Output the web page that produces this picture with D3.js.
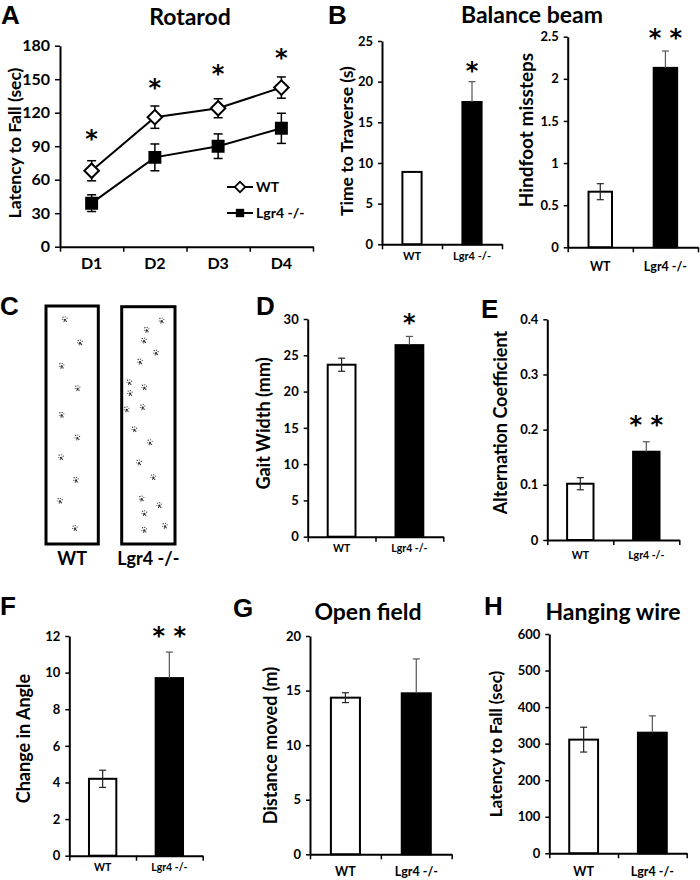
<!DOCTYPE html>
<html><head><meta charset="utf-8">
<script src="https://cdn.jsdelivr.net/npm/d3@7"></script>
<style>body{margin:0;background:#fff}svg{display:block}</style>
</head><body>
<script>
// ---------------- DATA ----------------
const days = ["D1", "D2", "D3", "D4"];
const rotarodWT = [68, 116, 124, 142.5];
const rotarodWTErr = [9, 10, 8.5, 9.5];
const rotarodKO = [39, 80, 90, 106];
const rotarodKOErr = [7.5, 12, 11, 13.5];
const rotarodStarY = [100, 146, 158, 173];
const rotarodTicks = [0, 30, 60, 90, 120, 150, 180];

const groups = ["WT", "Lgr4 -/-"];

const traverseMean = [8.9, 17.5];
const traverseErr = [0, 2.5];
const traverseTicks = [0, 5, 10, 15, 20, 25];

const misstepsMean = [0.66, 2.13];
const misstepsErr = [0.095, 0.2];
const misstepsTicks = [0, 0.5, 1, 1.5, 2, 2.5];

const gaitWidthMean = [23.7, 26.4];
const gaitWidthErr = [0.9, 1.2];
const gaitWidthTicks = [0, 5, 10, 15, 20, 25, 30];

const altCoefMean = [0.102, 0.16];
const altCoefErr = [0.011, 0.018];
const altCoefTicks = [0, 0.1, 0.2, 0.3, 0.4];

const angleMean = [4.2, 9.7];
const angleErr = [0.47, 1.42];
const angleTicks = [0, 2, 4, 6, 8, 10, 12];

const distanceMean = [14.35, 14.75];
const distanceErr = [0.45, 3.15];
const distanceTicks = [0, 5, 10, 15, 20];

const hangingMean = [311, 330];
const hangingErr = [34, 46];
const hangingTicks = [0, 100, 200, 300, 400, 500, 600];

// footprint positions (percent of track width / length)
const footWT_x = [36, 65, 30, 60.5, 30, 60, 28.7, 57.3, 26.8, 55.4];
const footWT_y = [5.6, 15.4, 25.2, 34.6, 45.8, 55.3, 63.6, 73.1, 81.9, 93.4];
const footKO_x = [75, 46.9, 41.9, 64.4, 34.4, 14.4, 42.5, 15.6, 9.4, 39.4, 23.8, 53.1, 32.5, 59.4, 37.5, 70.6, 42.5, 81.3, 42.5];
const footKO_y = [5.9, 9.8, 14.3, 19.4, 23.2, 31.9, 34.0, 36.5, 43.3, 42.4, 51.7, 57.2, 65.7, 71.9, 80.9, 83.7, 87.1, 92.4, 94.1];

// ---------------- DRAW ----------------
const FONT = "Lato, 'Open Sans', sans-serif";
const svg = d3.select("body").append("svg").attr("width", 700).attr("height", 880)
  .style("font-family", FONT);

function panelLetter(t, x, y) {
  svg.append("text").attr("x", x).attr("y", y).text(t)
    .attr("font-family", "'Liberation Sans', Arial, sans-serif")
    .attr("font-weight", "bold").attr("font-size", 26);
}
function title(t, x, y) {
  svg.append("text").attr("x", x).attr("y", y).attr("text-anchor", "middle")
    .attr("font-weight", "bold").attr("font-size", 23).text(t);
}
function yLabel(t, cx, cy, fs) {
  svg.append("text").attr("transform", `translate(${cx},${cy}) rotate(-90)`)
    .attr("text-anchor", "middle").attr("dominant-baseline", "central")
    .attr("font-weight", "bold").attr("font-size", fs).text(t);
}
function star(t, x, yc, fs) {
  svg.append("text").attr("x", x).attr("y", yc + fs * 0.5).attr("text-anchor", "middle")
    .attr("font-family", "'DejaVu Sans', sans-serif").attr("font-weight", "bold")
    .attr("font-size", fs).text(t);
}
function styleAxis(g, fs) {
  g.select(".domain").attr("stroke", "#000").attr("stroke-width", 2);
  g.selectAll(".tick line").attr("stroke", "#000").attr("stroke-width", 1.5);
  g.selectAll(".tick text").attr("font-weight", "bold").attr("font-size", fs)
    .attr("font-family", FONT).attr("fill", "#000");
}

function barPanel(c) {
  const y = d3.scaleLinear().domain([0, c.max]).range([c.y0, c.y1]);
  const x = d3.scaleBand().domain(groups).range([c.x0, c.x1]).padding(0);
  const xb = d3.scaleLinear().domain([0, groups.length]).range([c.x0, c.x1]);
  const bw = x.bandwidth() * c.frac;
  const g = svg.append("g");
  g.selectAll("rect.bar").data(c.mean).join("rect")
    .attr("x", (d, i) => x(groups[i]) + x.bandwidth() / 2 - bw / 2)
    .attr("y", d => y(d)).attr("width", bw).attr("height", d => y(0) - y(d))
    .attr("fill", (d, i) => i === 0 ? "#fff" : "#000")
    .attr("stroke", "#000").attr("stroke-width", 2);
  const cap = c.cap || 7;
  c.mean.forEach((m, i) => {
    const e = c.err[i];
    if (!e) return;
    const cx = x(groups[i]) + x.bandwidth() / 2;
    const col = i === 0 ? "#222" : "#555";
    const lo = i === 0 ? m - e : m;
    g.append("line").attr("x1", cx).attr("x2", cx).attr("y1", y(m + e)).attr("y2", y(lo))
      .attr("stroke", col).attr("stroke-width", 1.2);
    g.append("line").attr("x1", cx - cap / 2).attr("x2", cx + cap / 2).attr("y1", y(m + e)).attr("y2", y(m + e))
      .attr("stroke", col).attr("stroke-width", 1.2);
    if (i === 0) g.append("line").attr("x1", cx - cap / 2).attr("x2", cx + cap / 2).attr("y1", y(m - e)).attr("y2", y(m - e))
      .attr("stroke", col).attr("stroke-width", 1.2);
  });
  const ya = g.append("g").attr("transform", `translate(${c.x0},0)`)
    .call(d3.axisLeft(y).tickValues(c.ticks).tickFormat(d => String(d)).tickSize(4).tickSizeOuter(0).tickPadding(c.tpad || 5));
  styleAxis(ya, c.tfs);
  const xa = g.append("g").attr("transform", `translate(0,${c.y0})`)
    .call(d3.axisBottom(xb).tickValues(d3.range(groups.length + 1)).tickFormat("").tickSize(5).tickSizeOuter(0));
  styleAxis(xa, c.tfs);
  g.selectAll("text.cat").data(groups).join("text")
    .attr("x", d => x(d) + x.bandwidth() / 2).attr("y", c.xly)
    .attr("text-anchor", "middle").attr("font-weight", "bold").attr("font-size", c.xfs).text(d => d);
  if (c.star) star(c.star.t, x(groups[c.star.i]) + x.bandwidth() / 2, y(c.star.v), c.star.fs || 24);
  return { x, y };
}

// ---- Panel A: Rotarod ----
panelLetter("A", 1, 24);
title("Rotarod", 190, 25);
{
  const x = d3.scalePoint().domain(days).range([60, 313]).padding(0.5);
  const y = d3.scaleLinear().domain([0, 180]).range([246.7, 45.7]);
  const xb = d3.scaleLinear().domain([0, 4]).range([60, 313]);
  const ya = svg.append("g").attr("transform", "translate(60,0)")
    .call(d3.axisLeft(y).tickValues(rotarodTicks).tickSize(5).tickSizeOuter(0).tickPadding(5));
  styleAxis(ya, 16);
  const xa = svg.append("g").attr("transform", "translate(0,246.7)")
    .call(d3.axisBottom(xb).tickValues(d3.range(5)).tickFormat("").tickSize(5).tickSizeOuter(0));
  styleAxis(xa, 16);
  svg.selectAll("text.day").data(days).join("text").attr("class", "day")
    .attr("x", d => x(d)).attr("y", 269).attr("text-anchor", "middle")
    .attr("font-weight", "bold").attr("font-size", 16).text(d => d);
  yLabel("Latency to Fall (sec)", 14, 143, 17.5);

  const line = d3.line().x((d, i) => x(days[i])).y(d => y(d));
  const series = [
    { m: rotarodKO, e: rotarodKOErr, size: 120, rot: 0, fill: "#000" },
    { m: rotarodWT, e: rotarodWTErr, size: 105, rot: 45, fill: "#fff" }
  ];
  series.forEach(s => {
    svg.append("path").attr("d", line(s.m)).attr("fill", "none").attr("stroke", "#000").attr("stroke-width", 2);
    s.m.forEach((v, i) => {
      const cx = x(days[i]);
      const e = s.e[i];
      svg.append("line").attr("x1", cx).attr("x2", cx).attr("y1", y(v + e)).attr("y2", y(v - e)).attr("stroke", "#000").attr("stroke-width", 1.5);
      [v + e, v - e].forEach(t => svg.append("line").attr("x1", cx - 4.5).attr("x2", cx + 4.5).attr("y1", y(t)).attr("y2", y(t)).attr("stroke", "#000").attr("stroke-width", 1.5));
    });
    svg.selectAll(null).data(s.m).join("path")
      .attr("d", d3.symbol().type(d3.symbolSquare).size(s.size))
      .attr("transform", (d, i) => `translate(${x(days[i])},${y(d)}) rotate(${s.rot})`)
      .attr("fill", s.fill).attr("stroke", "#000").attr("stroke-width", 2);
  });
  rotarodStarY.forEach((v, i) => star("*", x(days[i]), y(v), 24));
  const lg = [{ t: "WT", sym: 0 }, { t: "Lgr4 -/-", sym: 1 }];
  lg.forEach((l, i) => {
    const ly = 187 + i * 26;
    svg.append("line").attr("x1", 227).attr("x2", 253).attr("y1", ly).attr("y2", ly).attr("stroke", "#000").attr("stroke-width", 2);
    if (l.sym === 0) svg.append("path").attr("d", d3.symbol().type(d3.symbolSquare).size(55)())
      .attr("transform", `translate(240,${ly}) rotate(45)`).attr("fill", "#fff").attr("stroke", "#000").attr("stroke-width", 1.8);
    else svg.append("path").attr("d", d3.symbol().type(d3.symbolSquare).size(70)())
      .attr("transform", `translate(240,${ly})`).attr("fill", "#000");
    svg.append("text").attr("x", 256).attr("y", ly + 5).attr("font-weight", "bold").attr("font-size", 14).text(l.t);
  });
}

// ---- Panel B ----
panelLetter("B", 328, 24);
title("Balance beam", 532, 23);
barPanel({ x0: 382, x1: 502, y0: 244.3, y1: 41, max: 25, ticks: traverseTicks, mean: traverseMean, err: traverseErr,
  frac: 0.32, tfs: 13, xfs: 11, xly: 260, star: { t: "*", i: 1, v: 21.8 } });
yLabel("Time to Traverse (s)", 346, 141, 17.5);
barPanel({ x0: 567.7, x1: 698, y0: 247.3, y1: 36.7, max: 2.5, ticks: misstepsTicks, mean: misstepsMean, err: misstepsErr,
  frac: 0.36, tfs: 13, xfs: 12.5, xly: 271, star: { t: "* *", i: 1, v: 2.53 } });
yLabel("Hindfoot missteps", 525, 130, 19);

// ---- Panel C: footprints ----
panelLetter("C", 0, 315);
function track(x0, y0, w, h, fx, fy, label) {
  svg.append("rect").attr("x", x0).attr("y", y0).attr("width", w).attr("height", h)
    .attr("fill", "#fff").attr("stroke", "#000").attr("stroke-width", 3);
  const sx = d3.scaleLinear().domain([0, 100]).range([x0, x0 + w]);
  const sy = d3.scaleLinear().domain([0, 100]).range([y0, y0 + h]);
  const toes = [[-1.8, -2.2, 0.7], [0.4, -2.6, 0.6], [2.2, -1.2, 0.6], [-2.4, 0.2, 0.5], [0, 0.5, 1.2], [1.4, 1.9, 0.7], [-0.8, 2.2, 0.6]];
  fx.forEach((vx, i) => {
    const g = svg.append("g").attr("transform", `translate(${sx(vx)},${sy(fy[i])})`);
    g.selectAll("circle").data(toes).join("circle")
      .attr("cx", d => d[0]).attr("cy", d => d[1]).attr("r", d => d[2]).attr("fill", "#333");
  });
  svg.append("text").attr("x", x0 + w / 2).attr("y", y0 + h + 21).attr("text-anchor", "middle")
    .attr("font-weight", "bold").attr("font-size", 18).text(label);
}
track(46, 306, 52.3, 238, footWT_x, footWT_y, "WT");
track(121.7, 306.7, 53.3, 237.3, footKO_x, footKO_y, "Lgr4 -/-");

// ---- Panel D ----
panelLetter("D", 256, 315);
barPanel({ x0: 307.7, x1: 443.3, y0: 536.7, y1: 319, max: 30, ticks: gaitWidthTicks, mean: gaitWidthMean, err: gaitWidthErr,
  frac: 0.41, tfs: 13, xfs: 10.5, xly: 552, star: { t: "*", i: 1, v: 30 } });
yLabel("Gait Width (mm)", 263, 423.5, 18);

// ---- Panel E ----
panelLetter("E", 481, 318);
barPanel({ x0: 547.3, x1: 679.3, y0: 540, y1: 319.3, max: 0.4, ticks: altCoefTicks, mean: altCoefMean, err: altCoefErr,
  frac: 0.40, tfs: 13, xfs: 10.5, xly: 559, star: { t: "* *", i: 1, v: 0.215 } });
yLabel("Alternation Coefficient", 500, 422.5, 18);

// ---- Panel F ----
panelLetter("F", 0, 615);
barPanel({ x0: 69.3, x1: 202.7, y0: 855.7, y1: 636, max: 12, ticks: angleTicks, mean: angleMean, err: angleErr,
  frac: 0.41, tfs: 13, xfs: 10.5, xly: 871, star: { t: "* *", i: 1, v: 12.2 } });
yLabel("Change in Angle", 23, 738.5, 18);

// ---- Panel G ----
panelLetter("G", 233, 617);
title("Open field", 368, 620);
barPanel({ x0: 310, x1: 451.7, y0: 854.3, y1: 636, max: 20, ticks: distanceTicks, mean: distanceMean, err: distanceErr,
  frac: 0.41, tfs: 13, xfs: 12.5, xly: 876 });
yLabel("Distance moved (m)", 270, 745.5, 18);

// ---- Panel H ----
panelLetter("H", 484, 615);
title("Hanging wire", 613, 620);
barPanel({ x0: 549.3, x1: 686.7, y0: 853.3, y1: 634, max: 600, ticks: hangingTicks, mean: hangingMean, err: hangingErr,
  frac: 0.42, tfs: 13, xfs: 12.5, xly: 876 });
yLabel("Latency to Fall (sec)", 495, 744, 17);
</script>
</body></html>
